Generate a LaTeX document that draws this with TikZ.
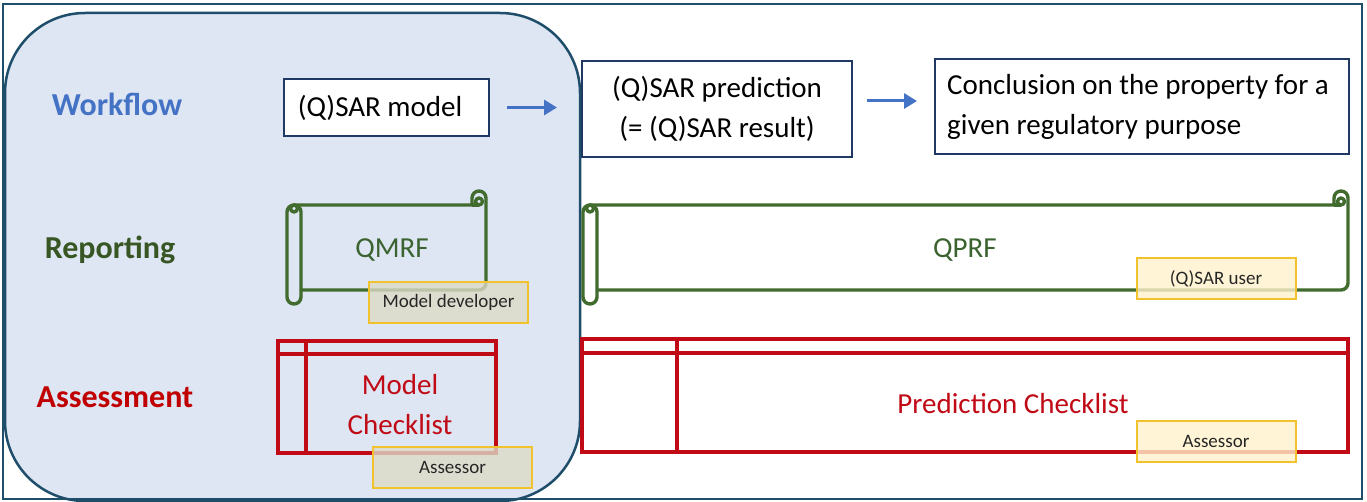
\documentclass[tikz,border=0pt]{standalone}
\usepackage{fontspec}
\setmainfont{Carlito}
\usetikzlibrary{arrows.meta}

\definecolor{frameblue}{HTML}{1F4E6B}
\definecolor{panelfill}{HTML}{DEE6F3}
\definecolor{flowblue}{HTML}{4472C4}
\definecolor{navy}{HTML}{1F3864}
\definecolor{repgreen}{HTML}{375623}
\definecolor{scrollgreen}{HTML}{426B2E}
\definecolor{textgreen}{HTML}{3A6330}
\definecolor{assessred}{HTML}{C00000}
\definecolor{listred}{HTML}{C00A16}
\definecolor{tagedge}{HTML}{F2C12E}
\definecolor{tagfill}{HTML}{FFF2CC}
\definecolor{tagfillgray}{HTML}{DCDAC6}

\tikzset{
  rowlabel/.style={font=\fontsize{32}{38}\selectfont\bfseries, inner sep=0pt},
  bodytext/.style={font=\fontsize{29}{40}\selectfont, inner sep=0pt, align=center},
  flowbox/.style={draw=navy, line width=2pt, fill=white, inner sep=0pt,
    font=\fontsize{29}{40}\selectfont},
  flowarrow/.style={draw=flowblue, line width=3pt,
    -{Triangle[length=13pt,width=15pt]}},
  scrollline/.style={draw=scrollgreen, line width=3.4pt, line join=round},
  listbox/.style={draw=listred, line width=3.4pt, inner sep=0pt},
  listline/.style={draw=listred, line width=3.4pt},
  tag/.style={draw=tagedge, line width=2pt, fill opacity=0.8, text opacity=1,
    inner sep=0pt, minimum width=159pt, minimum height=41pt,
    font=\fontsize{19}{22}\selectfont, text=black!85},
}

% horizontal scroll: left, top, right, bottom, roll size
\newcommand\drawscroll[5]{%
  \pgfmathsetmacro\scrL{#1}\pgfmathsetmacro\scrT{#2}%
  \pgfmathsetmacro\scrR{#3}\pgfmathsetmacro\scrB{#4}%
  \pgfmathsetmacro\scrC{#5}\pgfmathsetmacro\scrH{#5/2}%
  \pgfmathsetmacro\scrQ{#5/4}%
  \draw[scrollline]
    (\scrL,{\scrT+\scrC+\scrH}) arc[start angle=180,end angle=270,radius=\scrH]
    -- ({\scrR-\scrC},{\scrT+\scrC}) -- ({\scrR-\scrC},{\scrT+\scrH})
    arc[start angle=180,end angle=360,radius=\scrH]
    -- (\scrR,{\scrB-\scrC-\scrH})
    arc[start angle=0,end angle=90,radius=\scrH]
    -- ({\scrL+\scrC},{\scrB-\scrC}) -- ({\scrL+\scrC},{\scrB-\scrH})
    arc[start angle=0,end angle=180,radius=\scrH] -- cycle;
  % left roll: inner edge and curl
  \draw[scrollline] ({\scrL+\scrH},{\scrT+\scrC})
    arc[start angle=270,end angle=360,radius=\scrH]
    -- ({\scrL+\scrC},{\scrB-\scrC});
  \draw[scrollline] ({\scrL+\scrH},{\scrT+\scrC+\scrQ}) circle[radius=\scrQ];
  % right roll: lower edge and curl
  \draw[scrollline] ({\scrR-\scrC},{\scrT+\scrC}) -- ({\scrR-\scrH},{\scrT+\scrC});
  \draw[scrollline] ({\scrR-\scrH},{\scrT+\scrC-\scrQ}) circle[radius=\scrQ];
}

\begin{document}
\begin{tikzpicture}[x=1pt,y=-1pt]
  \useasboundingbox (0,0) rectangle (1367,502);
  \fill[white] (0,0) rectangle (1367,502);

  % model-side panel
  \draw[draw=frameblue, line width=2.5pt, fill=panelfill, rounded corners=80pt]
    (5,13) rectangle (580,501);

  % row labels
  \node[rowlabel, text=flowblue] (lworkflow) at (117,104) {Workflow};
  \node[rowlabel, text=repgreen] (lreporting) at (110,250) {Reporting};
  \node[rowlabel, text=assessred] (lassess) at (115,397) {Assessment};

  % workflow
  \node[flowbox, minimum width=205pt, minimum height=57pt] (model)
    at (386.5,107.5) {};
  \node[bodytext] (modeltext) at (380,107.5) {(Q)SAR model};
  \node[flowbox, minimum width=270pt, minimum height=96pt, align=center] (pred)
    at (717,109) {(Q)SAR prediction\\(= (Q)SAR result)};
  \node[flowbox, minimum width=414pt, minimum height=95pt] (concl)
    at (1142,106.5) {};
  \node[bodytext, align=left, anchor=west] (concltext) at (947,107)
    {Conclusion on the property for a\\given regulatory purpose};

  \draw[flowarrow, shorten <=17pt, shorten >=24pt]
    (model.east |- 0,107.5) -- (pred.west |- 0,107.5);
  \draw[flowarrow, shorten <=14pt, shorten >=17pt]
    (pred.east |- 0,101) -- (concl.west |- 0,101);

  % reporting
  \drawscroll{287}{191}{486}{304}{14}
  \drawscroll{583}{191}{1348}{304}{14}
  \node[bodytext, text=textgreen] (qmrf) at (392,250) {QMRF};
  \node[bodytext, text=textgreen] (qprf) at (965,250) {QPRF};

  % assessment
  \node[listbox, minimum width=218pt, minimum height=112pt] (mchk) at (387,397) {};
  \draw[listline] (mchk.west |- 0,354) -- (mchk.east |- 0,354);
  \draw[listline] (306,0 |- mchk.north) -- (306,0 |- mchk.south);
  \node[bodytext, text=listred] (mchktext) at (400,405) {Model\\Checklist};

  \node[listbox, minimum width=766pt, minimum height=113pt] (pchk) at (965,395.5) {};
  \draw[listline] (pchk.west |- 0,353) -- (pchk.east |- 0,353);
  \draw[listline] (677,0 |- pchk.north) -- (677,0 |- pchk.south);
  \node[bodytext, text=listred] (pchktext) at (1013,404) {Prediction Checklist};

  % role tags
  \node[tag, fill=tagfillgray] (mdev) at (448.5,302.5) {Model developer};
  \node[tag, fill=tagfill] (quser) at (1216,279) {(Q)SAR user};
  \node[tag, fill=tagfillgray] (massess) at (452.5,467) {Assessor};
  \node[tag, fill=tagfill] (passess) at (1216,441.5) {Assessor};

  % outer frame
  \draw[frameblue, line width=2pt] (3,4) rectangle (1362,499);
\end{tikzpicture}
\end{document}
